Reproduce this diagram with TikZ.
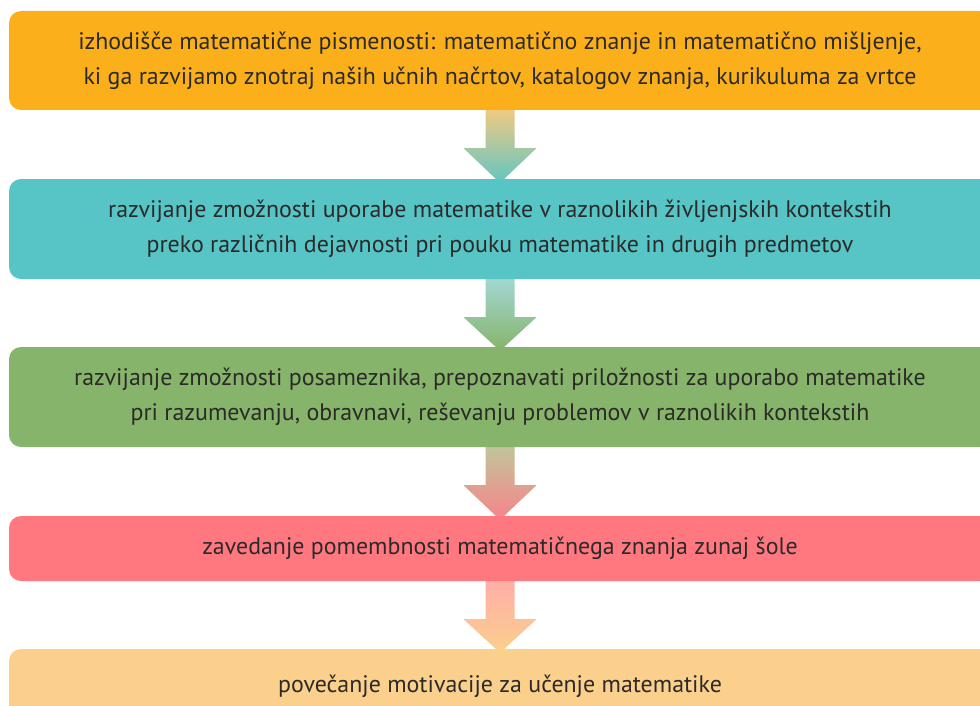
\documentclass[tikz,border=0pt]{standalone}
\usepackage{fontspec}
\setmainfont{PT Sans}
\usetikzlibrary{calc}
\definecolor{cOrange}{HTML}{FBB01B}
\definecolor{cTeal}{HTML}{57C4C6}
\definecolor{cGreen}{HTML}{87B46B}
\definecolor{cRed}{HTML}{FF7880}
\definecolor{cLight}{HTML}{FBD08C}
\definecolor{cText}{HTML}{2B2A29}
\definecolor{aOneTop}{HTML}{F2CA80}
\definecolor{aOneBot}{HTML}{63C5C3}
\definecolor{aTwoTop}{HTML}{A3D8D4}
\definecolor{aTwoBot}{HTML}{86B46A}
\definecolor{aThreeTop}{HTML}{C0C69A}
\definecolor{aThreeBot}{HTML}{F7848A}
\definecolor{aFourTop}{HTML}{FFADA8}
\definecolor{aFourBot}{HTML}{FBD08C}
\pgfdeclarelayer{bg}
\pgfsetlayers{bg,main}
\tikzset{
  box/.style={rounded corners=12pt, minimum width=982pt, text=cText, align=center,
    font=\fontsize{23.9}{35}\selectfont, inner sep=0pt},
}
\newcommand\flowarrow[4]{%
  \begin{pgfonlayer}{bg}
  \shade[top color=#3, bottom color=#4]
    ($(#1.south)+(-14.5,-2)$) -- ($(#1.south)+(14.5,-2)$) -- ($(#1.south)+(14.5,38)$)
    -- ($(#1.south)+(36.5,38)$) -- ($(#2.north)+(0,4)$) -- ($(#1.south)+(-36.5,38)$)
    -- ($(#1.south)+(-14.5,38)$) -- cycle;
  \end{pgfonlayer}}
\begin{document}
\begin{tikzpicture}[x=1pt,y=-1pt]
\useasboundingbox (0,0) rectangle (980,706);
\clip (0,0) rectangle (980,706);
\node[box, fill=cOrange, minimum height=99pt] (b1) at (500,60.5)
  {izhodišče matematične pismenosti: matematično znanje in matematično mišljenje,\\
   ki ga razvijamo znotraj naših učnih načrtov, katalogov znanja, kurikuluma za vrtce};
\node[box, fill=cTeal, minimum height=100pt] (b2) at (500,229)
  {razvijanje zmožnosti uporabe matematike v raznolikih življenjskih kontekstih\\
   preko različnih dejavnosti pri pouku matematike in drugih predmetov};
\node[box, fill=cGreen, minimum height=100pt] (b3) at (500,397)
  {razvijanje zmožnosti posameznika, prepoznavati priložnosti za uporabo matematike\\
   pri razumevanju, obravnavi, reševanju problemov v raznolikih kontekstih};
\node[box, fill=cRed, minimum height=65pt] (b4) at (500,548.5)
  {zavedanje pomembnosti matematičnega znanja zunaj šole};
\node[box, fill=cLight, minimum height=75pt] (b5) at (500,686.5)
  {povečanje motivacije za učenje matematike};
\flowarrow{b1}{b2}{aOneTop}{aOneBot}
\flowarrow{b2}{b3}{aTwoTop}{aTwoBot}
\flowarrow{b3}{b4}{aThreeTop}{aThreeBot}
\flowarrow{b4}{b5}{aFourTop}{aFourBot}
\end{tikzpicture}
\end{document}
